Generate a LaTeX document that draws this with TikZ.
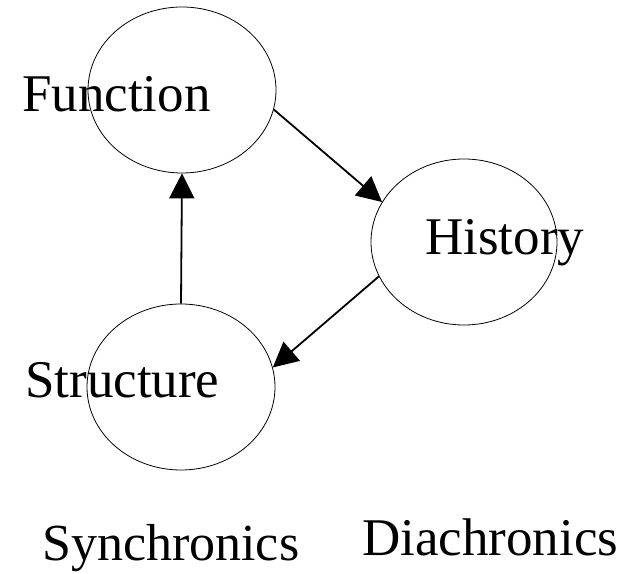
\documentclass[tikz,border=0pt]{standalone}
\usepackage{fontspec}
\setmainfont{Liberation Serif}
\usetikzlibrary{shapes.geometric,arrows.meta}

\begin{document}
\begin{tikzpicture}[x=1pt,y=1pt,
    oval/.style={draw,ellipse,inner sep=0pt,minimum width=188pt,minimum height=166pt,line width=0.8pt},
    word/.style={anchor=base west,inner sep=0pt,font=\fontsize{53}{60}\selectfont},
    link/.style={line width=1.8pt,-{Triangle[length=25pt,width=25pt]}}]

    \useasboundingbox (0,0) rectangle (634,573);

    \node [oval] (f) at (182, 483) {};
    \node [oval,minimum width=186pt] (h) at (464, 331) {};
    \node [oval] (s) at (181, 186) {};

    \node [word] (ft) at (22, 461) {Function};
    \node [word] (ht) at (425, 318) {History};
    \node [word] (st) at (25, 175) {Structure};
    \node [word,font=\fontsize{52}{60}\selectfont] (sy) at (42, 13) {Synchronics};
    \node [word] (di) at (362, 18) {Diachronics};

    \draw [link] (f.-12) to (h.154);
    \draw [link] (h.202) to (s.12);
    \draw [link] (s.north) to (f.south);

\end{tikzpicture}
\end{document}
